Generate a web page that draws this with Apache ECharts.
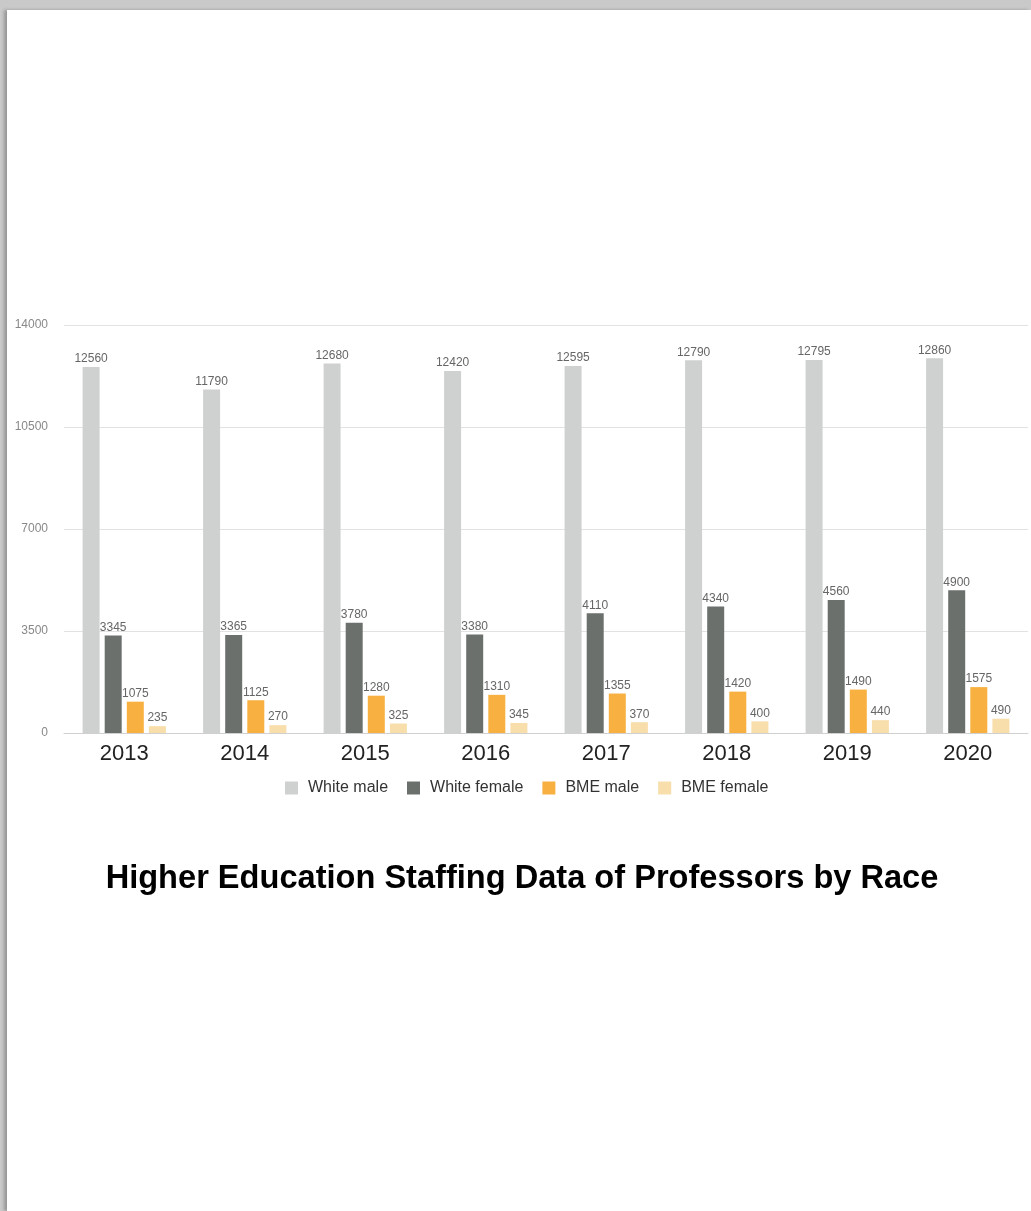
<!DOCTYPE html>
<html>
<head>
<meta charset="utf-8">
<script src="https://cdn.jsdelivr.net/npm/echarts@6/dist/echarts.min.js"></script>
<style>
  html, body { margin: 0; padding: 0; width: 1031px; height: 1211px; overflow: hidden; background: #c9c9c9; }
  #page { position: absolute; left: 7px; top: 10px; right: 0; bottom: 0; background: #fff; box-shadow: -3px 0 3px rgba(0,0,0,0.25); }
  #chart { position: absolute; left: 0; top: 0; width: 1031px; height: 1211px; }
</style>
</head>
<body>
<div id="page"></div>
<div id="chart"></div>
<script>
// Professors by race and sex, UK higher education staffing
const years = ['2013', '2014', '2015', '2016', '2017', '2018', '2019', '2020'];
const whiteMale = [12560, 11790, 12680, 12420, 12595, 12790, 12795, 12860];
const whiteFemale = [3345, 3365, 3780, 3380, 4110, 4340, 4560, 4900];
const bmeMale = [1075, 1125, 1280, 1310, 1355, 1420, 1490, 1575];
const bmeFemale = [235, 270, 325, 345, 370, 400, 440, 490];
const yTicks = [0, 3500, 7000, 10500, 14000];

const FONT = '"Liberation Sans", Arial, Helvetica, sans-serif';

function barSeries(name, data, color) {
  return {
    name: name,
    type: 'bar',
    data: data,
    barWidth: 17,
    barGap: '30%',
    itemStyle: { color: color },
    label: {
      show: true,
      position: 'top',
      distance: 2,
      fontSize: 12,
      fontFamily: FONT,
      color: '#666'
    }
  };
}

const chart = echarts.init(document.getElementById('chart'), null, { renderer: 'canvas' });
chart.setOption({
  backgroundColor: 'transparent',
  animation: false,
  title: {
    text: 'Higher Education Staffing Data of Professors by Race',
    left: 517,
    textAlign: 'center',
    top: 858,
    textStyle: { fontFamily: FONT, fontSize: 32.6, fontWeight: 'bold', color: '#000' }
  },
  legend: {
    top: 775,
    left: 280,
    itemWidth: 13,
    itemHeight: 13,
    itemGap: 19,
    icon: 'rect',
    textStyle: { fontFamily: FONT, fontSize: 16, color: '#333', padding: [0, 0, 0, 5] },
    data: ['White male', 'White female', 'BME male', 'BME female']
  },
  grid: { left: 64, right: 3, top: 325, bottom: 478, containLabel: false },
  xAxis: {
    type: 'category',
    data: years,
    axisLine: { lineStyle: { color: '#d0d0d0' } },
    axisTick: { show: false },
    axisLabel: { fontFamily: FONT, fontSize: 22, color: '#222', margin: 10 }
  },
  yAxis: {
    type: 'value',
    min: yTicks[0],
    max: yTicks[yTicks.length - 1],
    interval: yTicks[1] - yTicks[0],
    axisLine: { show: false },
    axisTick: { show: false },
    axisLabel: {
      fontFamily: FONT, fontSize: 12, color: '#888', margin: 16,
      formatter: function (v) { return String(v); }
    },
    splitLine: { lineStyle: { color: '#e2e2e2' } }
  },
  series: [
    barSeries('White male', whiteMale, '#cfd0d0'),
    barSeries('White female', whiteFemale, '#6b706d'),
    barSeries('BME male', bmeMale, '#f8b140'),
    barSeries('BME female', bmeFemale, '#f8deab')
  ]
});
</script>
</body>
</html>
